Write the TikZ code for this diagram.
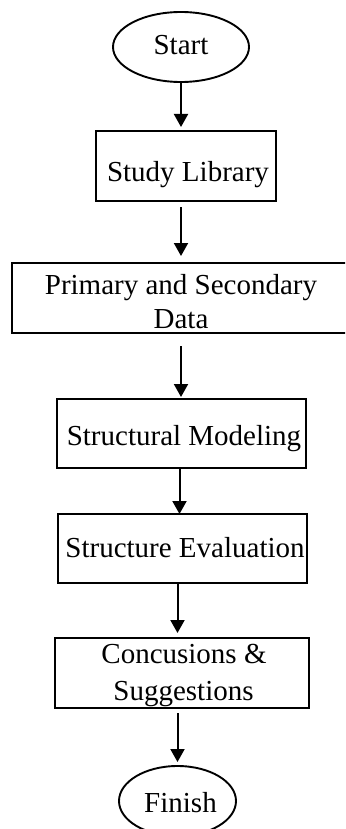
\documentclass[tikz,border=0pt]{standalone}
\usepackage{fontspec}
\setmainfont{Liberation Serif}
\usetikzlibrary{shapes.geometric,arrows.meta}

\begin{document}
\begin{tikzpicture}[x=1pt,y=-1pt,
  every node/.style={inner sep=0pt, outer sep=0pt},
  terminal/.style={draw, line width=1.9pt, ellipse},
  stepbox/.style={draw, line width=1.9pt, rectangle},
  lbl/.style={anchor=base, font=\fontsize{29}{34}\selectfont, align=center},
  arr/.style={line width=2pt, -{Triangle[length=13pt,width=14pt]}}]

\useasboundingbox (0,0) rectangle (345,829);
\clip (0,0) rectangle (345,829);

% shapes of the flow
\node[terminal, minimum width=136pt, minimum height=70pt] (start) at (181,47) {};
\node[stepbox, minimum width=180pt, minimum height=70pt] (sl) at (186,166) {};
\node[stepbox, minimum width=338pt, minimum height=70pt] (pd) at (181,298) {};
\node[stepbox, minimum width=249pt, minimum height=69pt] (sm) at (181.5,433.5) {};
\node[stepbox, minimum width=249pt, minimum height=69pt] (se) at (182.5,548.5) {};
\node[stepbox, minimum width=254pt, minimum height=70pt] (cs) at (182,673) {};
\node[terminal, minimum width=117pt, minimum height=70pt] (fin) at (177.5,801) {};

% texts
\node[lbl] (startt) at (181,55) {Start};
\node[lbl] (slt) at (188,182) {Study Library};
\node[lbl] (pdt1) at (181,294) {Primary and Secondary};
\node[lbl] (pdt2) at (181,328) {Data};
\node[lbl] (smt) at (184,445) {Structural Modeling};
\node[lbl] (set) at (185,557) {Structure Evaluation};
\node[lbl] (cst1) at (184,663) {Concusions \&};
\node[lbl] (cst2) at (183.5,700) {Suggestions};
\node[lbl] (fint) at (180.5,812) {Finish};

% connectors
\draw[arr, shorten >=4pt] (start.south) -- (start.south |- sl.north);
\draw[arr, shorten <=6pt, shorten >=7pt] (pd.north |- sl.south) -- (pd.north);
\draw[arr, shorten <=13pt, shorten >=2pt] (pd.south) -- (pd.south |- sm.north);
\draw[arr] ([xshift=-2pt]sm.south) -- ([xshift=-2pt]sm.south |- se.north);
\draw[arr, shorten >=5pt] (fin.north |- se.south) -- (fin.north |- cs.north);
\draw[arr, shorten <=5pt, shorten >=4pt] (fin.north |- cs.south) -- (fin.north);
\end{tikzpicture}
\end{document}
